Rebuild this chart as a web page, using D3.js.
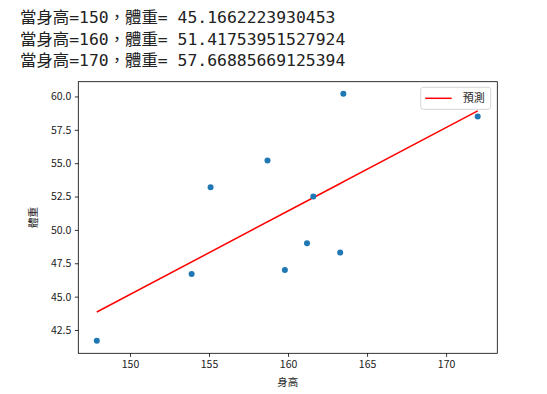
<!DOCTYPE html>
<html>
<head>
<meta charset="utf-8">
<script src="https://cdn.jsdelivr.net/npm/d3@7"></script>
<style>
  body { margin: 0; background: #fff; }
  svg { display: block; }
</style>
</head>
<body>
<svg id="chart"></svg>
<script>
// printed output lines
var outLines = [
  '當身高=150，體重= 45.1662223930453',
  '當身高=160，體重= 51.41753951527924',
  '當身高=170，體重= 57.66885669125394'
];

// data (height, weight) and the model's prediction at each height
var heights = [147.9, 163.5, 159.8, 155.1, 163.3, 158.7, 172.0, 161.2, 153.9, 161.6];
var weights = [41.7, 60.2, 47.0, 53.2, 48.3, 55.2, 58.5, 49.0, 46.7, 52.5];
var preds   = [43.85, 53.60, 51.29, 48.35, 53.48, 50.60, 58.92, 52.17, 47.60, 52.42];

var xTicks = [150, 155, 160, 165, 170];
var yTicks = [42.5, 45.0, 47.5, 50.0, 52.5, 55.0, 57.5, 60.0];

var W = 547, H = 394;
var margin = { top: 81.7, right: 49.7, bottom: 40.7, left: 78.3 },
    width  = W - margin.left - margin.right,
    height = H - margin.top - margin.bottom;

var cjk = '"Noto Sans CJK TC", "Noto Sans CJK JP", sans-serif';

var svg = d3.select('#chart').attr('width', W).attr('height', H);

// text output above the chart
svg.append('g').selectAll('text')
    .data(outLines)
    .enter()
    .append('text')
    .attr('x', 20)
    .attr('y', function(d, i) { return 23 + i * 21.6; })
    .style('font-family', '"DejaVu Sans Mono", ' + cjk)
    .style('font-size', '16.4px')
    .style('fill', '#222')
    .text(function(d) { return d; });

var x = d3.scaleLinear().domain([146.73, 173.24]).range([0, width]);
var y = d3.scaleLinear().domain([40.755, 61.105]).range([height, 0]);

var g = svg.append('g')
    .attr('transform', 'translate(' + margin.left + ',' + margin.top + ')');

// regression line, drawn in data order
var line = d3.line()
    .x(function(d) { return x(d[0]); })
    .y(function(d) { return y(d[1]); });

g.append('path')
    .datum(heights.map(function(h, i) { return [h, preds[i]]; }))
    .attr('d', line)
    .attr('fill', 'none')
    .attr('stroke', '#ff0000')
    .attr('stroke-width', 1.5);

// scatter
g.selectAll('circle')
    .data(heights)
    .enter()
    .append('circle')
    .attr('cx', function(d) { return x(d); })
    .attr('cy', function(d, i) { return y(weights[i]); })
    .attr('r', 3)
    .attr('fill', '#1f77b4');

// axes
var xAxis = d3.axisBottom(x).tickValues(xTicks).tickSize(3.5).tickPadding(3.5).tickFormat(d3.format('d'));
var yAxis = d3.axisLeft(y).tickValues(yTicks).tickSize(3.5).tickPadding(3.5).tickFormat(d3.format('.1f'));

g.append('g')
    .attr('class', 'axis')
    .attr('transform', 'translate(0,' + height + ')')
    .call(xAxis);

g.append('g')
    .attr('class', 'axis')
    .call(yAxis);

g.selectAll('.axis .domain').remove();
g.selectAll('.axis line').attr('stroke', '#000').attr('stroke-width', 0.8);
g.selectAll('.axis text')
    .style('font-family', cjk)
    .style('font-size', '10.5px')
    .style('fill', '#222');

// frame
g.append('rect')
    .attr('width', width)
    .attr('height', height)
    .attr('fill', 'none')
    .attr('stroke', '#000')
    .attr('stroke-width', 0.8);

// axis labels
g.append('text')
    .attr('x', width / 2)
    .attr('y', height + 33)
    .attr('text-anchor', 'middle')
    .style('font-family', cjk)
    .style('font-size', '10.5px')
    .style('fill', '#222')
    .text('身高');

g.append('text')
    .attr('transform', 'translate(' + (-41) + ',' + (height / 2) + ') rotate(-90)')
    .attr('text-anchor', 'middle')
    .style('font-family', cjk)
    .style('font-size', '10.5px')
    .style('fill', '#222')
    .text('體重');

// legend
var legend = g.append('g')
    .attr('transform', 'translate(' + (width - 76.6) + ',5.6)');

legend.append('rect')
    .attr('width', 70)
    .attr('height', 22)
    .attr('rx', 2.5)
    .attr('fill', '#fff')
    .attr('fill-opacity', 0.8)
    .attr('stroke', '#ccc')
    .attr('stroke-width', 0.8);

legend.append('line')
    .attr('x1', 4.5).attr('x2', 31)
    .attr('y1', 11).attr('y2', 11)
    .attr('stroke', '#ff0000')
    .attr('stroke-width', 1.5);

legend.append('text')
    .attr('x', 42)
    .attr('y', 15)
    .style('font-family', cjk)
    .style('font-size', '11px')
    .style('fill', '#222')
    .text('預測');
</script>
</body>
</html>
